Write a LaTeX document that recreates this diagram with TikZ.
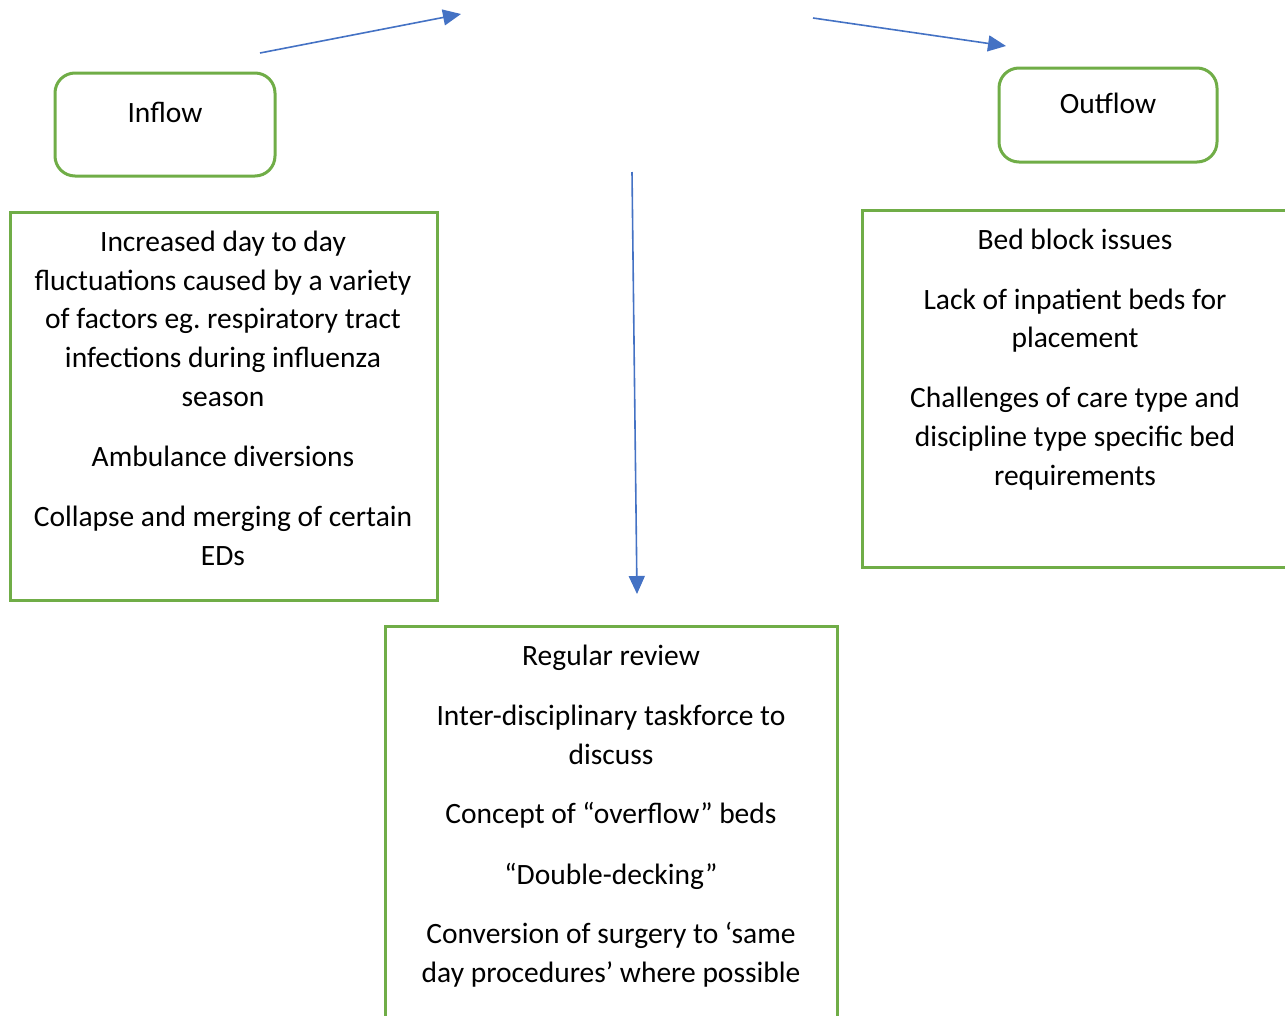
\documentclass[tikz,border=0pt]{standalone}
\usepackage{fontspec}
\setmainfont{Carlito}
\frenchspacing
\usetikzlibrary{arrows.meta}
\definecolor{boxgreen}{HTML}{70AD47}
\definecolor{arrblue}{HTML}{4472C4}
\begin{document}
\begin{tikzpicture}[x=1pt,y=-1pt,
  frame/.style={draw=boxgreen,line width=3pt},
  txt/.style={anchor=base,inner sep=0pt,font=\fontsize{29.5}{34}\selectfont},
  conn/.style={draw=arrblue,line width=1.6pt,-{Triangle[length=18pt,width=16pt]}}]
\useasboundingbox (0,0) rectangle (1285,1015);
% boxes
\draw[frame,rounded corners=20pt] (55,73) rectangle (275,176);
\draw[frame,rounded corners=20pt] (999,68) rectangle (1217,162);
\draw[frame] (10,212) rectangle (437,600);
\draw[frame] (862,210) rectangle (1300,567);
\draw[frame] (385,626) rectangle (837,1030);
% titles
\node[txt] (inflow) at (165,122) {Inflow};
\node[txt] (outflow) at (1108,113) {Outflow};
% left text
\node[txt] (l1) at (223,251) {Increased day to day};
\node[txt] (l2) at (223,290) {fluctuations caused by a variety};
\node[txt] (l3) at (223,328) {of factors eg. respiratory tract};
\node[txt] (l4) at (223,367) {infections during influenza};
\node[txt] (l5) at (223,406) {season};
\node[txt] (l6) at (223,466) {Ambulance diversions};
\node[txt] (l7) at (223,526) {Collapse and merging of certain};
\node[txt] (l8) at (223,565) {EDs};
% right text
\node[txt] (r1) at (1075,249) {Bed block issues};
\node[txt] (r2) at (1075,309) {Lack of inpatient beds for};
\node[txt] (r3) at (1075,347) {placement};
\node[txt] (r4) at (1075,407) {Challenges of care type and};
\node[txt] (r5) at (1075,446) {discipline type specific bed};
\node[txt] (r6) at (1075,485) {requirements};
% bottom text
\node[txt] (b1) at (611,665) {Regular review};
\node[txt] (b2) at (611,725) {Inter-disciplinary taskforce to};
\node[txt] (b3) at (611,764) {discuss};
\node[txt] (b4) at (611,823) {Concept of “overflow” beds};
\node[txt] (b5) at (611,884) {“Double-decking”};
\node[txt] (b6) at (611,943) {Conversion of surgery to ‘same};
\node[txt] (b7) at (611,982) {day procedures’ where possible};
% arrows
\coordinate (a1s) at (260,53);
\coordinate (a1e) at (461,14);
\coordinate (a2s) at (813,18);
\coordinate (a2e) at (1006,46);
\coordinate (a3s) at (632,172);
\coordinate (a3e) at (637,594);
\draw[conn] (a1s) -- (a1e);
\draw[conn] (a2s) -- (a2e);
\draw[conn] (a3s) -- (a3e);
\end{tikzpicture}
\end{document}
